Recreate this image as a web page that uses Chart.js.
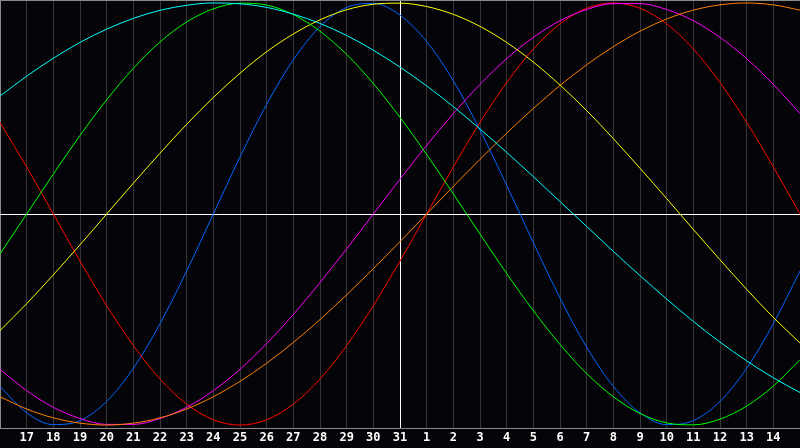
<!DOCTYPE html>
<html>
<head>
<meta charset="utf-8">
<script src="https://cdn.jsdelivr.net/npm/chart.js@4.4.1/dist/chart.umd.min.js"></script>
<style>
html,body{margin:0;padding:0;background:#050509;}
#wrap{width:800px;height:448px;}
</style>
</head>
<body>
<div id="wrap"><canvas id="c" width="800" height="448"></canvas></div>
<script>
// Day labels (16th of one month through 15th of the next)
const days = [16,17,18,19,20,21,22,23,24,25,26,27,28,29,30,31,1,2,3,4,5,6,7,8,9,10,11,12,13,14,15];

// Series values per day (-1 .. 1)
const blue = [-0.817,-0.942,-0.998,-0.979,-0.888,-0.731,-0.520,-0.270,0,0.270,0.520,0.731,0.888,0.979,0.998,0.942,0.817,0.631,0.398,0.136,-0.136,-0.398,-0.631,-0.817,-0.942,-0.998,-0.979,-0.888,-0.731,-0.520,-0.270];
const red = [0.434,0.223,0,-0.223,-0.434,-0.623,-0.782,-0.901,-0.975,-1,-0.975,-0.901,-0.782,-0.623,-0.434,-0.223,0,0.223,0.434,0.623,0.782,0.901,0.975,1,0.975,0.901,0.782,0.623,0.434,0.223,0];
const green = [-0.189,0,0.189,0.372,0.541,0.690,0.815,0.910,0.972,0.999,0.990,0.945,0.866,0.756,0.618,0.458,0.282,0.095,-0.095,-0.282,-0.458,-0.618,-0.756,-0.866,-0.945,-0.990,-0.999,-0.972,-0.910,-0.815,-0.690];
const magenta = [-0.736,-0.837,-0.916,-0.969,-0.997,-0.997,-0.969,-0.916,-0.837,-0.736,-0.614,-0.476,-0.325,-0.165,0,0.165,0.325,0.476,0.614,0.736,0.837,0.916,0.969,0.997,0.997,0.969,0.916,0.837,0.736,0.614,0.476];
const yellow = [-0.552,-0.425,-0.288,-0.146,0,0.146,0.288,0.425,0.552,0.667,0.769,0.853,0.920,0.968,0.994,0.999,0.983,0.946,0.889,0.813,0.720,0.611,0.490,0.357,0.217,0.073,-0.073,-0.217,-0.357,-0.490,-0.611];
const orange = [-0.866,-0.924,-0.966,-0.991,-1,-0.991,-0.966,-0.924,-0.866,-0.793,-0.707,-0.609,-0.5,-0.383,-0.259,-0.131,0,0.131,0.259,0.383,0.5,0.609,0.707,0.793,0.866,0.924,0.966,0.991,1,0.991,0.966];
const cyan = [0.559,0.653,0.738,0.813,0.876,0.927,0.965,0.989,1.000,0.996,0.979,0.947,0.903,0.846,0.776,0.696,0.607,0.509,0.403,0.292,0.177,0.059,-0.059,-0.177,-0.292,-0.403,-0.509,-0.607,-0.696,-0.776,-0.846];

const todayIndex = 15;

function ds(data, color){
  return {data:data, borderColor:color, borderWidth:1, pointRadius:0, pointHoverRadius:0, fill:false,
          cubicInterpolationMode:'monotone'};
}

const frame = {
  id:'frame',
  beforeDatasetsDraw(chart){
    const a = chart.chartArea, c = chart.ctx;
    c.save();
    c.strokeStyle = '#8a8a8a';
    c.lineWidth = 1;
    c.beginPath();
    c.moveTo(a.left, a.top + 0.5);
    c.lineTo(a.right, a.top + 0.5);
    c.stroke();
    c.restore();
  }
};

new Chart(document.getElementById('c'), {
  type:'line',
  data:{
    labels:days,
    datasets:[
      ds(cyan,'#00ffff'),
      ds(green,'#00ff00'),
      ds(yellow,'#ffff00'),
      ds(orange,'#ff8000'),
      ds(magenta,'#ff00ff'),
      ds(red,'#ff0000'),
      ds(blue,'#0066ff')
    ]
  },
  options:{
    responsive:false,
    animation:false,
    layout:{padding:0, autoPadding:false},
    plugins:{legend:{display:false}, tooltip:{enabled:false}},
    scales:{
      x:{
        offset:false,
        afterFit:(s)=>{ s.paddingLeft = 0; s.paddingRight = 0; s.height = 20; },
        grid:{
          drawTicks:false,
          lineWidth:1,
          color:(ctx)=> ctx.index===todayIndex ? '#ffffff' : (ctx.index===0 ? '#8a8a8a' : (ctx.index===days.length-1 ? 'rgba(0,0,0,0)' : '#363636'))
        },
        border:{display:true, color:'#8a8a8a', width:1},
        ticks:{
          color:'#ffffff',
          font:{family:'DejaVu Sans Mono', weight:'bold', size:12},
          padding:3,
          autoSkip:false,
          maxRotation:0,
          callback:(v,i)=> (i===0 || i===days.length-1) ? '' : String(days[i])
        }
      },
      y:{
        min:-1.014, max:1.014,
        afterFit:(s)=>{ s.width = 0; s.paddingTop = 0; s.paddingBottom = 0; },
        ticks:{display:false, stepSize:0.5},
        border:{display:false},
        grid:{
          drawTicks:false,
          lineWidth:1,
          color:(ctx)=> (ctx.tick && ctx.tick.value===0) ? '#ffffff' : 'rgba(0,0,0,0)'
        }
      }
    }
  },
  plugins:[frame]
});
</script>
</body>
</html>
